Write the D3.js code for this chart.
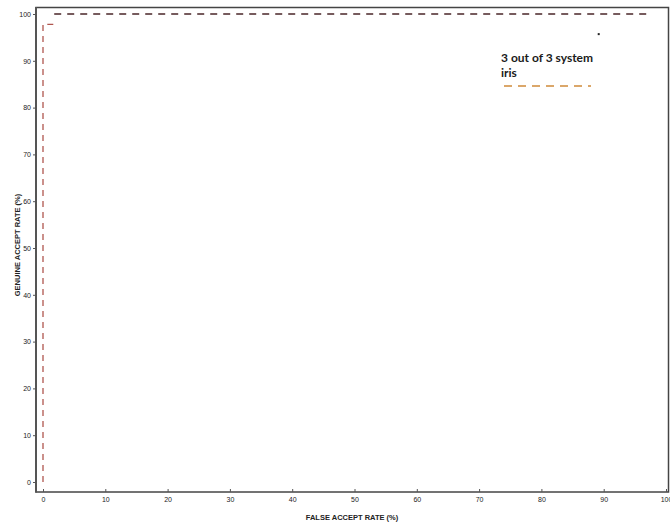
<!DOCTYPE html>
<html>
<head>
<meta charset="utf-8">
<script src="https://cdn.jsdelivr.net/npm/d3@7"></script>
<style>
  body { margin: 0; background: #fff; }
</style>
</head>
<body>
<div id="chart"></div>
<script>
// ROC-style curve: genuine accept rate vs false accept rate
var farTicks = [0, 10, 20, 30, 40, 50, 60, 70, 80, 90, 100];
var garTicks = [0, 10, 20, 30, 40, 50, 60, 70, 80, 90, 100];

// lower part of the curve (reddish)
var lowFar = [0, 0, 0.8, 1.8];
var lowGar = [0, 97.8, 97.8, 97.8];
// upper part of the curve (dark)
var topFar = [1.8, 97];
var topGar = [100, 100];
// stray marker near the legend
var dotFar = [89.2];
var dotGar = [95.7];

var legendLabel = ["3 out of 3 system", "iris"];

var width = 670;
var height = 524;

var svg = d3.select("#chart").append("svg")
    .attr("width", width)
    .attr("height", height);

var x = d3.scaleLinear().domain([0, 100]).range([43, 666]);
var y = d3.scaleLinear().domain([0, 100]).range([482, 14]);

// frame
svg.append("rect")
    .attr("x", 36).attr("y", 7.5)
    .attr("width", 632.5).attr("height", 484.5)
    .attr("fill", "none")
    .attr("stroke", "#444")
    .attr("stroke-width", 1.5);
svg.append("line")
    .attr("x1", 36).attr("x2", 36)
    .attr("y1", 7).attr("y2", 492.5)
    .attr("stroke", "#555")
    .attr("stroke-width", 2);

var xAxis = d3.axisBottom(x).tickValues(farTicks).tickSize(3).tickPadding(2);
var yAxis = d3.axisLeft(y).tickValues(garTicks).tickSize(3).tickPadding(2);

var gx = svg.append("g").attr("transform", "translate(0,492)").call(xAxis);
var gy = svg.append("g").attr("transform", "translate(36,0)").call(yAxis);
gx.select(".domain").remove();
gy.select(".domain").remove();
gx.selectAll(".tick line").attr("stroke", "#555").attr("transform", "translate(0,-3)");
gy.selectAll(".tick line").attr("stroke", "#555");
svg.selectAll(".tick text")
    .attr("font-family", "Liberation Sans, Arial, sans-serif")
    .attr("font-size", 7)
    .attr("fill", "#222");

// axis titles
svg.append("text")
    .text("FALSE ACCEPT RATE (%)")
    .attr("x", 352).attr("y", 520)
    .attr("text-anchor", "middle")
    .attr("font-family", "Liberation Sans, Arial, sans-serif")
    .attr("font-weight", "bold")
    .attr("font-size", 7.5)
    .attr("fill", "#222");

svg.append("text")
    .text("GENUINE ACCEPT RATE (%)")
    .attr("transform", "translate(20,245) rotate(-90)")
    .attr("text-anchor", "middle")
    .attr("font-family", "Liberation Sans, Arial, sans-serif")
    .attr("font-weight", "bold")
    .attr("font-size", 7.5)
    .attr("fill", "#222");

var line = d3.line()
    .x(function (d) { return x(d[0]); })
    .y(function (d) { return y(d[1]); });

svg.append("path")
    .datum(d3.zip(lowFar, lowGar))
    .attr("d", line)
    .attr("fill", "none")
    .attr("stroke", "#b0564f")
    .attr("stroke-width", 1.3)
    .attr("stroke-dasharray", "6,5");

svg.append("path")
    .datum(d3.zip(topFar, topGar))
    .attr("d", line)
    .attr("fill", "none")
    .attr("stroke", "#4a2628")
    .attr("stroke-width", 1.3)
    .attr("stroke-dasharray", "7,6");

svg.selectAll(".dot")
    .data(d3.zip(dotFar, dotGar))
    .enter()
    .append("rect")
    .attr("x", function (d) { return x(d[0]) - 1; })
    .attr("y", function (d) { return y(d[1]) - 1; })
    .attr("width", 2).attr("height", 2)
    .attr("fill", "#222");

// legend
var legend = svg.append("g").attr("transform", "translate(501,0)");
legend.selectAll("text")
    .data(legendLabel)
    .enter()
    .append("text")
    .text(function (d) { return d; })
    .attr("x", 0)
    .attr("y", function (d, i) { return 62 + i * 15; })
    .attr("font-family", "Lato, sans-serif")
    .attr("font-size", 12)
    .attr("font-weight", "bold")
    .attr("fill", "#1a1a1a");

legend.append("line")
    .attr("x1", 3).attr("x2", 90)
    .attr("y1", 86).attr("y2", 86)
    .attr("stroke", "#d08a3a")
    .attr("stroke-width", 1.5)
    .attr("stroke-dasharray", "8,6");
</script>
</body>
</html>
